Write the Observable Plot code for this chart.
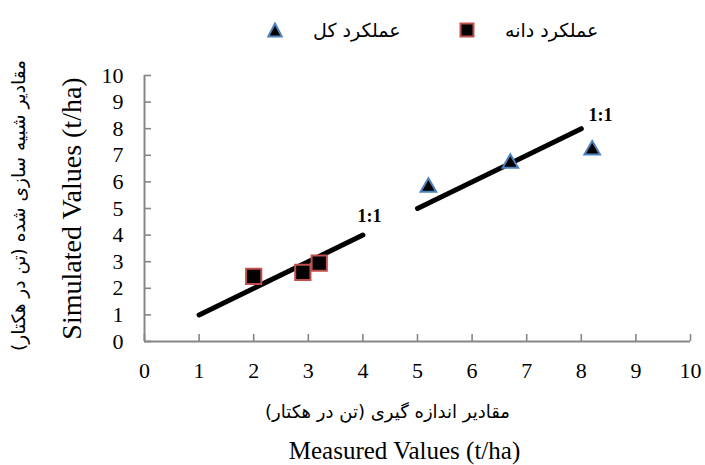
<!DOCTYPE html>
<html>
<head>
<meta charset="utf-8">
<script src="https://cdn.jsdelivr.net/npm/d3@7"></script>
<script src="https://cdn.jsdelivr.net/npm/@observablehq/plot@0.6"></script>
<style>
  html, body { margin: 0; padding: 0; background: #fff; }
  #wrap { width: 705px; }
  #legend { position: relative; width: 705px; height: 50px; font-family: "DejaVu Sans", sans-serif; font-size: 19px; color: #000; }
  .item { position: absolute; top: 17px; display: flex; align-items: center; height: 26px; }
  .item span { margin-left: 30px; white-space: nowrap; }
</style>
</head>
<body>
<div id="wrap">
  <div id="legend"></div>
  <div id="chart"></div>
</div>
<script>
// ---- data ----
const seriesNames = ["عملکرد کل", "عملکرد دانه"];           // total yield, grain yield
const grainMeasured = [2.0, 2.9, 3.2];
const grainSimulated = [2.45, 2.6, 2.95];
const totalMeasured = [5.2, 6.7, 8.2];
const totalSimulated = [5.8, 6.7, 7.2];
const oneToOneX = [1, 4, 5, 8];
const oneToOneY = [1, 4, 5, 8];
const oneToOneGroup = ["a", "a", "b", "b"];
const ratioLabels = ["1:1", "1:1"];
const ratioLabelX = [4.12, 8.35];
const ratioLabelY = [4.72, 8.5];
const ticks = [0, 1, 2, 3, 4, 5, 6, 7, 8, 9, 10];
const xTitleEn = "Measured Values (t/ha)";
const xTitleFa = "مقادیر اندازه گیری (تن در هکتار)\u200F";
const yTitleEn = "Simulated Values (t/ha)";
const yTitleFa = "مقادیر شبیه سازی شده (تن در هکتار)\u200F";

// ---- derived tables ----
const grain = grainMeasured.map((x, i) => ({x, y: grainSimulated[i]}));
const total = totalMeasured.map((x, i) => ({x, y: totalSimulated[i]}));
const lineData = oneToOneX.map((x, i) => ({x, y: oneToOneY[i], g: oneToOneGroup[i]}));
const labelData = ratioLabels.map((t, i) => ({t, x: ratioLabelX[i], y: ratioLabelY[i]}));

const gray = "#868686";
const serif = "Liberation Serif, Times New Roman, serif";
const persian = "DejaVu Sans, sans-serif";
const redEdge = "#c0504d";
const blueEdge = "#4f81bd";

// ---- legend (HTML) ----
const legend = document.getElementById("legend");
function legendItem(left, shapeSvg, text) {
  const d = document.createElement("div");
  d.className = "item";
  d.style.left = left + "px";
  d.innerHTML = shapeSvg + "<span>" + text + "</span>";
  legend.appendChild(d);
}
legendItem(267,
  `<svg width="16" height="16" viewBox="0 0 16 16"><path d="M8,1.5 L14.8,14.5 L1.2,14.5 Z" fill="#000" stroke="${blueEdge}" stroke-width="2"/></svg>`,
  seriesNames[0]);
legendItem(459,
  `<svg width="16" height="16" viewBox="0 0 16 16"><rect x="1.5" y="1.5" width="13" height="13" fill="#000" stroke="${redEdge}" stroke-width="2"/></svg>`,
  seriesNames[1]);

// ---- chart ----
const chart = Plot.plot({
  width: 705,
  height: 415,
  marginTop: 25,
  marginBottom: 124,
  marginLeft: 144,
  marginRight: 15,
  x: {domain: [0, 10]},
  y: {domain: [0, 10]},
  style: {background: "#fff", overflow: "visible"},
  marks: [
    Plot.axisX({ticks, tickSize: 0, tickPadding: 21, label: null, fontSize: 22, fontFamily: serif, fill: "#000"}),
    Plot.axisY({ticks, tickSize: 0, tickPadding: 21, label: null, fontSize: 22, fontFamily: serif, fill: "#000"}),
    Plot.axisX({ticks, tickSize: 7, insetBottom: 7, fill: "none", label: null, stroke: gray, strokeWidth: 1.6}),
    Plot.axisY({ticks, tickSize: 7, insetLeft: 7, fill: "none", label: null, stroke: gray, strokeWidth: 1.6}),
    Plot.ruleY([0], {stroke: gray, strokeWidth: 2}),
    Plot.ruleX([0], {stroke: gray, strokeWidth: 2}),
    Plot.line(lineData, {x: "x", y: "y", z: "g", stroke: "#000", strokeWidth: 5, strokeLinecap: "round"}),
    Plot.dot(grain, {x: "x", y: "y", symbol: "square", r: 8.6, fill: "#000", stroke: redEdge, strokeWidth: 2}),
    Plot.dot(total, {x: "x", y: "y", symbol: "triangle", r: 5.8, fill: "#000", stroke: blueEdge, strokeWidth: 2}),
    Plot.text(labelData, {x: "x", y: "y", text: "t", fontSize: 18, fontWeight: "bold", fontFamily: serif, fill: "#000"}),
    Plot.text([xTitleFa], {frameAnchor: "bottom", textAnchor: "middle", dx: -30, dy: 71, lineAnchor: "middle", fontSize: 18, fontFamily: persian, fill: "#000"}),
    Plot.text([xTitleEn], {frameAnchor: "bottom", textAnchor: "middle", dx: -13, dy: 109, lineAnchor: "middle", fontSize: 25, fontFamily: serif, fill: "#000"}),
    Plot.text([yTitleEn], {frameAnchor: "left", textAnchor: "middle", dx: -72, rotate: -90, lineAnchor: "middle", fontSize: 28, fontFamily: serif, fill: "#000"}),
    Plot.text([yTitleFa], {frameAnchor: "left", textAnchor: "middle", dx: -125, dy: -3, rotate: -90, lineAnchor: "middle", fontSize: 18.5, fontFamily: persian, fill: "#000"})
  ]
});
document.getElementById("chart").appendChild(chart);
</script>
</body>
</html>
